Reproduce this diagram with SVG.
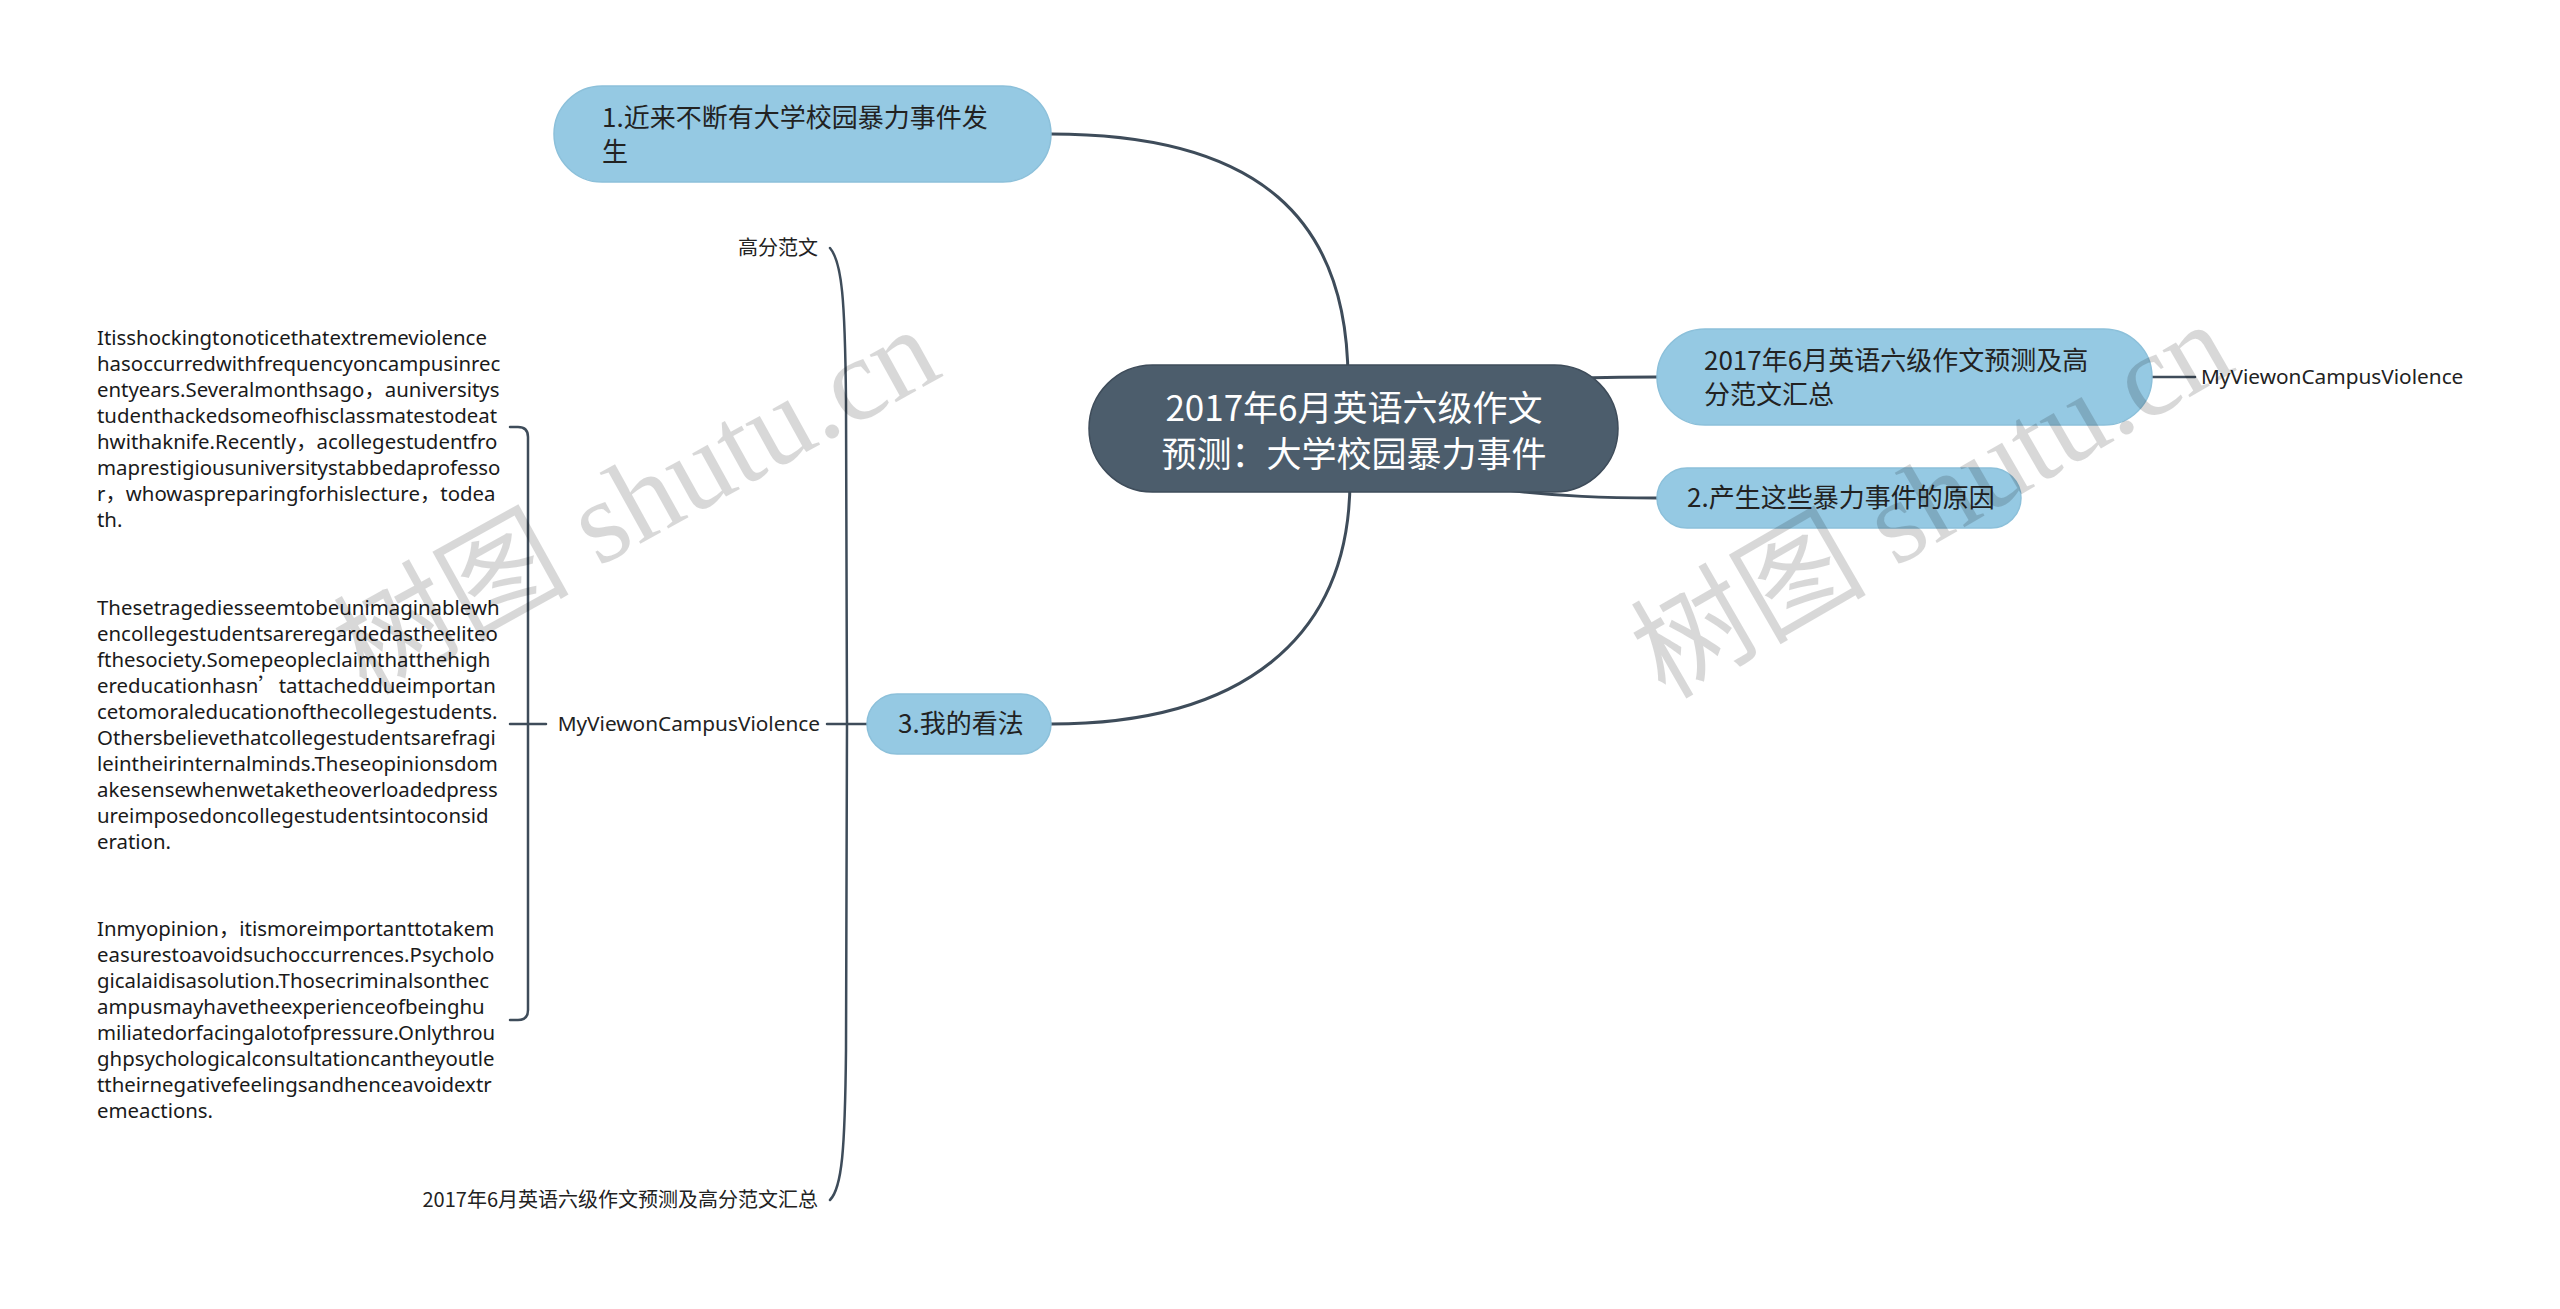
<svg xmlns="http://www.w3.org/2000/svg" width="2560" height="1309" viewBox="0 0 2560 1309">
<style>
.bg{fill:#ffffff}
.conn{fill:none;stroke:#3e4c5a;stroke-linecap:round}
.sub{fill:#95c9e3;stroke:#8cc0da;stroke-width:1.5}
.root{fill:#4c5d6c;stroke:#3e4c5a;stroke-width:1.5}
.t{font-family:"Noto Sans CJK SC","Noto Sans",sans-serif;fill:#222}
.rt{font-family:"Noto Sans CJK SC","Noto Sans",sans-serif;fill:#ffffff;font-size:35px;text-anchor:middle}
.st{font-size:26px}
.lf{font-size:20px}
.le{font-family:"Noto Sans","Noto Sans CJK SC",sans-serif;font-size:20.8px;fill:#222}
.p{font-family:"Noto Sans","Noto Sans CJK SC",sans-serif;font-size:20.4px;fill:#1a1a1a}
.cj{font-family:"Noto Sans CJK SC",sans-serif}
.wm{font-family:"Liberation Serif","Noto Sans CJK SC",serif;font-size:118px;fill:#000;opacity:0.15}
</style>
<rect class="bg" x="0" y="0" width="2560" height="1309"/>
<g id="connectors">
<path class="conn" stroke-width="3" d="M1051,134 C1260,134 1348,220 1348,380"/>
<path class="conn" stroke-width="3" d="M1350,480 C1350,640 1240,724 1051,724"/>
<path class="conn" stroke-width="3" d="M1580,378 C1620,377 1640,377 1657,377"/>
<path class="conn" stroke-width="3" d="M1490,488 C1560,497 1610,498 1657,498"/>
<path class="conn" stroke-width="2.5" d="M2152,377 L2195,377"/>
<path class="conn" stroke-width="2.5" d="M827,724 L867,724"/>
<path class="conn" stroke-width="2.5" d="M830,248 C842,262 845,300 846,400 L847,723 L846,1050 C845,1150 842,1188 830,1200"/>
<path class="conn" stroke-width="2.5" d="M510,427 L518,427 Q528,427 528,437 L528,1010 Q528,1020 518,1020 L510,1020"/>
<path class="conn" stroke-width="2.5" d="M510,724 L546,724"/>
</g>
<g id="root">
<rect class="root" x="1089" y="365" width="529" height="127" rx="63.5"/>
<text class="rt" x="1354" y="421">2017年6月英语六级作文</text>
<text class="rt" x="1354" y="467">预测：大学校园暴力事件</text>
</g>
<g id="node1">
<rect class="sub" x="554" y="86" width="497" height="96" rx="48"/>
<text class="t st" x="602" y="127">1.近来不断有大学校园暴力事件发</text>
<text class="t st" x="602" y="161">生</text>
</g>
<g id="node2">
<rect class="sub" x="1657" y="329" width="495" height="96" rx="48"/>
<text class="t st" x="1704" y="370">2017年6月英语六级作文预测及高</text>
<text class="t st" x="1704" y="404">分范文汇总</text>
</g>
<g id="node2-child">
<text class="le" x="2201" y="384">MyViewonCampusViolence</text>
</g>
<g id="node3">
<rect class="sub" x="1657" y="468" width="364" height="60" rx="30"/>
<text class="t st" x="1687" y="507">2.产生这些暴力事件的原因</text>
</g>
<g id="node4">
<rect class="sub" x="867" y="694" width="184" height="60" rx="30"/>
<text class="t st" x="898" y="733">3.我的看法</text>
</g>
<g id="leaf-gaofen">
<text class="t lf" x="818" y="255" text-anchor="end">高分范文</text>
</g>
<g id="leaf-myview">
<text class="le" x="820" y="731" text-anchor="end">MyViewonCampusViolence</text>
</g>
<g id="leaf-huizong">
<text class="t lf" x="818" y="1207" text-anchor="end">2017年6月英语六级作文预测及高分范文汇总</text>
</g>
<g id="para1">
<text class="p" x="97">
<tspan x="97" y="345">Itisshockingtonoticethatextremeviolence</tspan>
<tspan x="97" y="371">hasoccurredwithfrequencyoncampusinrec</tspan>
<tspan x="97" y="397">entyears.Severalmonthsago<tspan class="cj">，</tspan>auniversitys</tspan>
<tspan x="97" y="423">tudenthackedsomeofhisclassmatestodeat</tspan>
<tspan x="97" y="449">hwithaknife.Recently<tspan class="cj">，</tspan>acollegestudentfro</tspan>
<tspan x="97" y="475">maprestigiousuniversitystabbedaprofesso</tspan>
<tspan x="97" y="501">r<tspan class="cj">，</tspan>whowaspreparingforhislecture<tspan class="cj">，</tspan>todea</tspan>
<tspan x="97" y="527">th.</tspan>
</text>
</g>
<g id="para2">
<text class="p" x="97">
<tspan x="97" y="615">Thesetragediesseemtobeunimaginablewh</tspan>
<tspan x="97" y="641">encollegestudentsareregardedastheeliteo</tspan>
<tspan x="97" y="667">fthesociety.Somepeopleclaimthatthehigh</tspan>
<tspan x="97" y="693">ereducationhasn<tspan class="cj">’</tspan>tattacheddueimportan</tspan>
<tspan x="97" y="719">cetomoraleducationofthecollegestudents.</tspan>
<tspan x="97" y="745">Othersbelievethatcollegestudentsarefragi</tspan>
<tspan x="97" y="771">leintheirinternalminds.Theseopinionsdom</tspan>
<tspan x="97" y="797">akesensewhenwetaketheoverloadedpress</tspan>
<tspan x="97" y="823">ureimposedoncollegestudentsintoconsid</tspan>
<tspan x="97" y="849">eration.</tspan>
</text>
</g>
<g id="para3">
<text class="p" x="97">
<tspan x="97" y="936">Inmyopinion<tspan class="cj">，</tspan>itismoreimportanttotakem</tspan>
<tspan x="97" y="962">easurestoavoidsuchoccurrences.Psycholo</tspan>
<tspan x="97" y="988">gicalaidisasolution.Thosecriminalsonthec</tspan>
<tspan x="97" y="1014">ampusmayhavetheexperienceofbeinghu</tspan>
<tspan x="97" y="1040">miliatedorfacingalotofpressure.Onlythrou</tspan>
<tspan x="97" y="1066">ghpsychologicalconsultationcantheyoutle</tspan>
<tspan x="97" y="1092">ttheirnegativefeelingsandhenceavoidextr</tspan>
<tspan x="97" y="1118">emeactions.</tspan>
</text>
</g>
<g id="watermarks">
<text class="wm" transform="translate(366,696) rotate(-29)">树图 shutu.cn</text>
<text class="wm" transform="translate(1665,700) rotate(-30)">树图 shutu.cn</text>
</g>
</svg>
